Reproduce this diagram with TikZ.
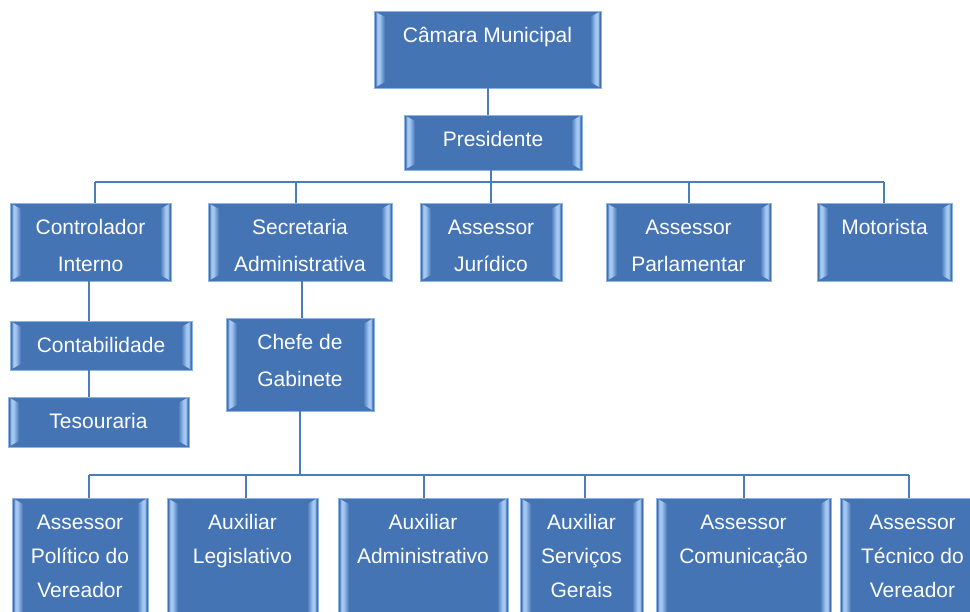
\documentclass[tikz,border=0pt]{standalone}
\usepackage{fontspec}
\setmainfont{Liberation Sans}
\definecolor{boxfill}{RGB}{68,116,180}
\definecolor{boxdark}{RGB}{60,104,166}
\definecolor{bevl}{RGB}{164,200,242}
\definecolor{boxedge}{RGB}{140,180,228}
\definecolor{conncol}{RGB}{74,126,187}
\pgfdeclarehorizontalshading{bevleft}{100bp}{color(0bp)=(boxedge); color(25bp)=(boxedge); color(30bp)=(boxdark); color(40bp)=(bevl); color(50bp)=(bevl); color(75bp)=(boxfill); color(100bp)=(boxfill)}
\pgfdeclarehorizontalshading{bevright}{100bp}{color(0bp)=(boxfill); color(25bp)=(boxfill); color(50bp)=(bevl); color(60bp)=(bevl); color(70bp)=(boxdark); color(75bp)=(boxedge); color(100bp)=(boxedge)}
\tikzset{
  conn/.style={draw=conncol, line width=1.6pt},
  boxframe/.style={draw=boxedge, line width=1pt, inner sep=0pt, outer sep=0pt, rectangle},
  boxtext/.style={anchor=north, inner sep=0pt, outer sep=0pt, align=center, text=white}
}
\newcommand\obox[7][37]{%
  \fill[boxfill] (#3,#4) rectangle (#5,#6);
  \shade[shading=bevleft] (#3,#4) -- ({#3+11},{#4+6}) -- ({#3+11},{#6-6}) -- (#3,#6) -- cycle;
  \shade[shading=bevright] (#5,#4) -- ({#5-11},{#4+6}) -- ({#5-11},{#6-6}) -- (#5,#6) -- cycle;
  \node[boxframe, minimum width={(#5-#3)*1pt}, minimum height={(#6-#4)*1pt}] (#2) at ({(#3+#5)/2},{(#4+#6)/2}) {};
  \node[boxtext, font=\fontsize{21}{#1}\selectfont] (#2-t) at ({(#3+#5)/2},#4) {\rule{0pt}{31.5pt}#7};
}
\begin{document}
\begin{tikzpicture}[x=1pt,y=-1pt]
\useasboundingbox (0,0) rectangle (970,611);
\fill[white] (0,0) rectangle (970,611);
\begin{scope}
\clip (0,0) rectangle (970,611);
% boxes
\obox{cam}{374}{11}{601}{88}{Câmara Municipal}
\obox{pres}{404}{115}{582}{170}{Presidente}
\obox{ci}{10}{203}{171}{281}{Controlador\\Interno}
\obox{sa}{208}{203}{392}{281}{Secretaria\\Administrativa}
\obox{aj}{420}{203}{562}{281}{Assessor\\Jurídico}
\obox{ap}{606}{203}{771}{281}{Assessor\\Parlamentar}
\obox{mot}{817}{203}{952}{281}{Motorista}
\obox{cont}{10}{321}{192}{370}{Contabilidade}
\obox{tes}{8}{397}{189}{447}{Tesouraria}
\obox{cg}{226}{318}{374}{411}{Chefe de\\Gabinete}
\obox[34]{apv}{12}{498}{148}{640}{Assessor\\Político do\\Vereador}
\obox[34]{al}{167}{498}{318}{640}{Auxiliar\\Legislativo}
\obox[34]{aa}{338}{498}{508}{640}{Auxiliar\\Administrativo}
\obox[34]{asg}{520}{498}{643}{640}{Auxiliar\\Serviços\\Gerais}
\obox[34]{ac}{656}{498}{831}{640}{Assessor\\Comunicação}
\obox[34]{atv}{840}{498}{985}{640}{Assessor\\Técnico do\\Vereador}
% coordinates
\coordinate (vcam) at (488,100);
\coordinate (b1P) at (491,182);
\coordinate (b1L) at (95,182);
\coordinate (b1S) at (296,182);
\coordinate (b1A) at (689,182);
\coordinate (b1R) at (884,182);
\coordinate (vci) at (89,300);
\coordinate (vsa) at (302,300);
\coordinate (b2C) at (300,475);
\coordinate (b2a) at (89,475);
\coordinate (b2b) at (246,475);
\coordinate (b2c) at (424,475);
\coordinate (b2d) at (585,475);
\coordinate (b2e) at (744,475);
\coordinate (b2f) at (909,475);
% connectors
\draw[conn] (vcam |- cam.south) -- (vcam |- pres.north);
\draw[conn] (b1P |- pres.south) -- (b1P);
\draw[conn] (b1L) -- (b1R);
\draw[conn] (b1L) -- (b1L |- ci.north);
\draw[conn] (b1S) -- (b1S |- sa.north);
\draw[conn] (b1P) -- (b1P |- aj.north);
\draw[conn] (b1A) -- (b1A |- ap.north);
\draw[conn] (b1R) -- (b1R |- mot.north);
\draw[conn] (vci |- ci.south) -- (vci |- cont.north);
\draw[conn] (vci |- cont.south) -- (vci |- tes.north);
\draw[conn] (vsa |- sa.south) -- (vsa |- cg.north);
\draw[conn] (b2C |- cg.south) -- (b2C);
\draw[conn] (b2a) -- (b2f);
\draw[conn] (b2a) -- (b2a |- apv.north);
\draw[conn] (b2b) -- (b2b |- al.north);
\draw[conn] (b2c) -- (b2c |- aa.north);
\draw[conn] (b2d) -- (b2d |- asg.north);
\draw[conn] (b2e) -- (b2e |- ac.north);
\draw[conn] (b2f) -- (b2f |- atv.north);
\end{scope}
\end{tikzpicture}
\end{document}
